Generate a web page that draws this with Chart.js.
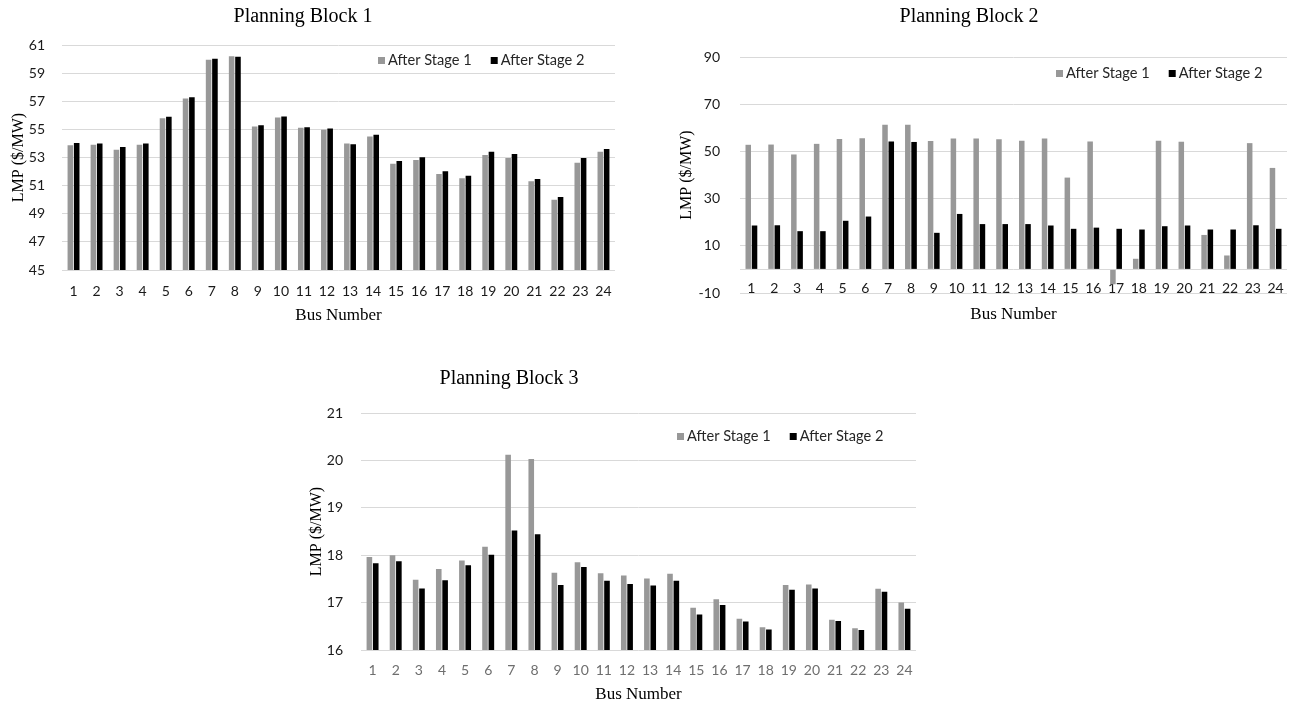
<!DOCTYPE html>
<html>
<head>
<meta charset="utf-8">
<script src="https://cdn.jsdelivr.net/npm/chart.js@4/dist/chart.umd.min.js"></script>
<style>
  html, body { margin: 0; padding: 0; background: #ffffff; }
  body { width: 1303px; height: 711px; position: relative; overflow: hidden; }
  canvas { position: absolute; }
</style>
</head>
<body>
<canvas id="c1" width="630" height="335" style="left:0px;top:0px;"></canvas>
<canvas id="c2" width="653" height="335" style="left:650px;top:0px;"></canvas>
<canvas id="c3" width="640" height="361" style="left:290px;top:350px;"></canvas>
<script>
// ---------- data ----------
const buses = ['1','2','3','4','5','6','7','8','9','10','11','12','13','14','15','16','17','18','19','20','21','22','23','24'];
const seriesNames = ['After Stage 1', 'After Stage 2'];

const block1Stage1 = [53.88, 53.90, 53.55, 53.90, 55.80, 57.20, 59.96, 60.20, 55.21, 55.85, 55.11, 54.97, 54.00, 54.50, 52.56, 52.82, 51.83, 51.52, 53.18, 52.96, 51.31, 50.00, 52.63, 53.41];
const block1Stage2 = [54.03, 54.00, 53.74, 54.00, 55.90, 57.29, 60.03, 60.17, 55.30, 55.92, 55.16, 55.07, 53.95, 54.62, 52.75, 53.01, 52.02, 51.71, 53.41, 53.25, 51.47, 50.20, 52.96, 53.60];

const block2Stage1 = [52.8, 52.9, 48.7, 53.2, 55.3, 55.6, 61.3, 61.3, 54.4, 55.5, 55.5, 55.1, 54.5, 55.5, 38.9, 54.2, -6.3, 4.5, 54.5, 54.1, 14.6, 5.9, 53.5, 43.0];
const block2Stage2 = [18.6, 18.7, 16.2, 16.2, 20.6, 22.4, 54.2, 54.0, 15.5, 23.5, 19.2, 19.2, 19.2, 18.6, 17.2, 17.7, 17.2, 16.9, 18.3, 18.6, 16.9, 16.9, 18.7, 17.2];

const block3Stage1 = [17.96, 18.00, 17.48, 17.71, 17.89, 18.18, 20.12, 20.03, 17.63, 17.85, 17.62, 17.57, 17.51, 17.61, 16.89, 17.07, 16.66, 16.48, 17.37, 17.38, 16.64, 16.46, 17.29, 17.00];
const block3Stage2 = [17.83, 17.87, 17.30, 17.47, 17.79, 18.01, 18.52, 18.44, 17.37, 17.75, 17.46, 17.39, 17.36, 17.46, 16.75, 16.95, 16.60, 16.43, 17.27, 17.30, 16.61, 16.42, 17.23, 16.87];

const block1Ticks = [45, 47, 49, 51, 53, 55, 57, 59, 61];
const block2Ticks = [-10, 10, 30, 50, 70, 90];
const block2Baseline = 0;
const block3Ticks = [16, 17, 18, 19, 20, 21];

const titles = ['Planning Block 1', 'Planning Block 2', 'Planning Block 3'];
const xTitle = 'Bus Number';
const yTitle = 'LMP ($/MW)';

// ---------- styling ----------
const GREY = '#989898';
const BLACK = '#000000';
const GRID = '#d9d9d9';
const SERIF = "'Liberation Serif', 'Times New Roman', serif";
const SANS = "Lato, 'Open Sans', sans-serif";

const captionPlugin = {
  id: 'caption',
  afterDraw(chart, args, o) {
    const ctx = chart.ctx;
    ctx.save();
    ctx.font = o.font;
    ctx.fillStyle = o.color;
    ctx.textAlign = 'center';
    ctx.textBaseline = 'alphabetic';
    ctx.fillText(o.text, o.x, o.y);
    ctx.restore();
  }
};

const keyPlugin = {
  id: 'key',
  afterDraw(chart, args, o) {
    const ctx = chart.ctx;
    const a = chart.chartArea;
    let x = a.left + o.dx;
    const y = a.top + o.dy;
    ctx.save();
    ctx.font = o.font;
    ctx.textBaseline = 'middle';
    ctx.textAlign = 'left';
    chart.data.datasets.forEach(ds => {
      ctx.fillStyle = ds.backgroundColor;
      ctx.fillRect(x, Math.round(y - o.box / 2), o.box, o.box);
      x += o.box + o.gap;
      ctx.fillStyle = o.color;
      ctx.fillText(ds.label, x, y);
      x += ctx.measureText(ds.label).width + o.spacing;
    });
    ctx.restore();
  }
};

function makeChart(id, cfg) {
  return new Chart(document.getElementById(id), {
    type: 'bar',
    data: {
      labels: buses,
      datasets: [
        { label: seriesNames[0], data: cfg.s1, backgroundColor: GREY, categoryPercentage: 0.55, barPercentage: 0.88 },
        { label: seriesNames[1], data: cfg.s2, backgroundColor: BLACK, categoryPercentage: 0.55, barPercentage: 0.88 }
      ]
    },
    plugins: [captionPlugin, keyPlugin],
    options: {
      responsive: false,
      animation: false,
      devicePixelRatio: 1,
      layout: { padding: cfg.padding },
      plugins: {
        legend: { display: false },
        tooltip: { enabled: false },
        caption: { text: cfg.title, x: cfg.titleX, y: cfg.titleY, font: '20px ' + SERIF, color: '#000000' },
        key: { dx: 316, dy: cfg.keyDy, box: 7, gap: 3, spacing: 19, font: '14.6px ' + SANS, color: '#262626' }
      },
      scales: {
        x: {
          grid: { display: false, drawTicks: false },
          border: { display: false },
          ticks: { color: cfg.xTickColor, font: { family: SANS, size: 14 }, padding: cfg.xTickPad, mirror: !!cfg.xMirror, maxRotation: 0, autoSkip: false },
          title: { display: true, text: xTitle, color: '#000000', font: { family: SERIF, size: 17 }, padding: { top: 0, bottom: cfg.xTitlePad } },
          afterFit: s => { s.height = cfg.xHeight; }
        },
        y: {
          min: cfg.ticks[0],
          max: cfg.ticks[cfg.ticks.length - 1],
          grid: { color: GRID, lineWidth: 1, drawTicks: false },
          border: { display: false },
          ticks: {
            color: '#1a1a1a',
            font: { family: SANS, size: 14 },
            padding: cfg.yTickPad,
            callback: v => (cfg.hidden !== undefined && v === cfg.hidden) ? '' : String(v)
          },
          afterBuildTicks: axis => {
            const vals = cfg.ticks.slice();
            if (cfg.hidden !== undefined) vals.push(cfg.hidden);
            vals.sort((p, q) => p - q);
            axis.ticks = vals.map(v => ({ value: v }));
          },
          title: { display: true, text: yTitle, color: '#000000', font: { family: SERIF, size: 16 }, padding: { top: cfg.yTitlePad, bottom: 0 } },
          afterFit: s => { s.width = cfg.yWidth; }
        }
      }
    }
  });
}

makeChart('c1', {
  s1: block1Stage1, s2: block1Stage2, ticks: block1Ticks,
  title: titles[0], titleX: 303, titleY: 21.5,
  padding: { top: 45, right: 15, left: 0, bottom: 0 },
  yWidth: 62, xHeight: 65, yTickPad: 17, xTickPad: 13, yTitlePad: 9, xTitlePad: 9,
  xTickColor: '#1a1a1a', keyDy: 15.7
});

makeChart('c2', {
  s1: block2Stage1, s2: block2Stage2, ticks: block2Ticks, hidden: block2Baseline,
  title: titles[1], titleX: 319, titleY: 21.5,
  padding: { top: 57, right: 16, left: 0, bottom: 0 },
  yWidth: 90, xHeight: 42, yTickPad: 20, xTickPad: -3.5, xMirror: true, yTitlePad: 27, xTitlePad: 10,
  xTickColor: '#1a1a1a', keyDy: 16.3
});

makeChart('c3', {
  s1: block3Stage1, s2: block3Stage2, ticks: block3Ticks,
  title: titles[2], titleX: 219, titleY: 34,
  padding: { top: 63, right: 14, left: 0, bottom: 0 },
  yWidth: 71, xHeight: 61, yTickPad: 18, xTickPad: 12, yTitlePad: 17, xTitlePad: 6,
  xTickColor: '#6e6e6e', keyDy: 23.4
});
</script>
</body>
</html>
